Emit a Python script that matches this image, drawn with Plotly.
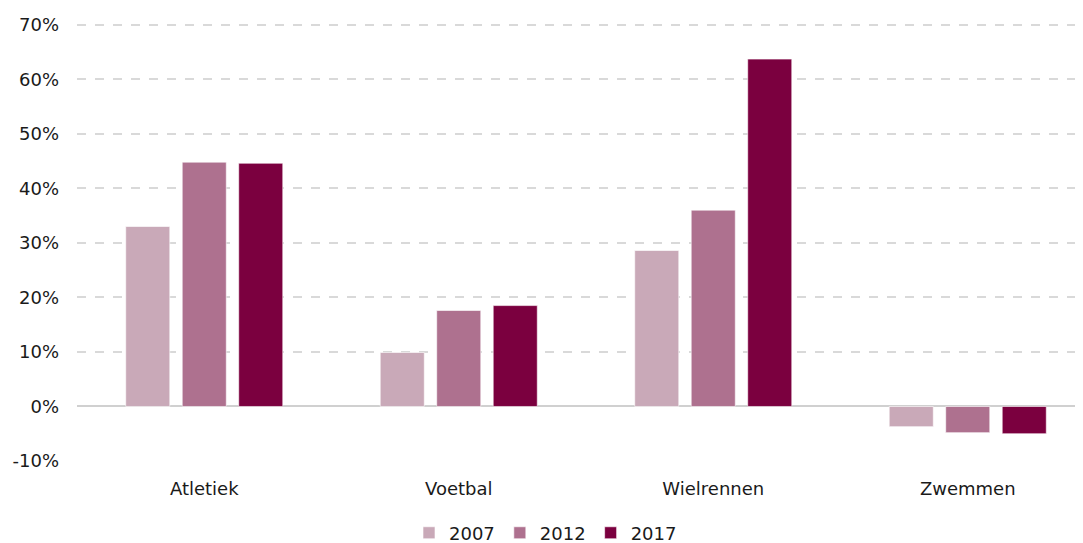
import plotly.graph_objects as go

categories = ["Atletiek", "Voetbal", "Wielrennen", "Zwemmen"]
years = ["2007", "2012", "2017"]
values_2007 = [0.330, 0.099, 0.286, -0.037]
values_2012 = [0.448, 0.176, 0.360, -0.048]
values_2017 = [0.446, 0.185, 0.637, -0.050]
colors = ["#C9A9B8", "#AE718F", "#7B003F"]
y_ticks = [-0.1, 0, 0.1, 0.2, 0.3, 0.4, 0.5, 0.6, 0.7]
y_tick_labels = ["-10%", "0%", "10%", "20%", "30%", "40%", "50%", "60%", "70%"]

fig = go.Figure()
for name, vals, col in zip(years, [values_2007, values_2012, values_2017], colors):
    fig.add_trace(go.Bar(x=categories, y=vals, name=name,
                         marker=dict(color=col, line=dict(color="rgba(255,255,255,0.6)", width=1))))

font_family = "DejaVu Sans, sans-serif"
fig.update_layout(
    width=1075, height=535,
    margin=dict(l=69, r=2, t=14, b=82, pad=0, autoexpand=False),
    paper_bgcolor="white", plot_bgcolor="white",
    barmode="group", bargap=0.334, bargroupgap=0.22,
    font=dict(family=font_family, size=18, color="#1a1a1a"),
    showlegend=True,
    legend=dict(orientation="h", x=0.5, xanchor="center", xref="container",
                y=-0.122, yanchor="top", yref="paper",
                font=dict(size=18, color="#1a1a1a"), traceorder="normal",
                itemwidth=30, tracegroupgap=0),
    xaxis=dict(range=[-0.5, 3.445], showgrid=False, showline=False, ticks="",
               automargin=False, tickfont=dict(size=18), ticklabelstandoff=15),
    yaxis=dict(range=[-0.1, 0.705], tickvals=y_ticks, ticktext=y_tick_labels,
               showgrid=True, gridcolor="#D9D9D9", griddash="dash", gridwidth=1.5,
               zeroline=True, zerolinecolor="#D0D0D0", zerolinewidth=1.5,
               automargin=False,
               showline=False, ticks="", ticklabelstandoff=17, tickfont=dict(size=18)),
)
fig.write_html("out.html")
